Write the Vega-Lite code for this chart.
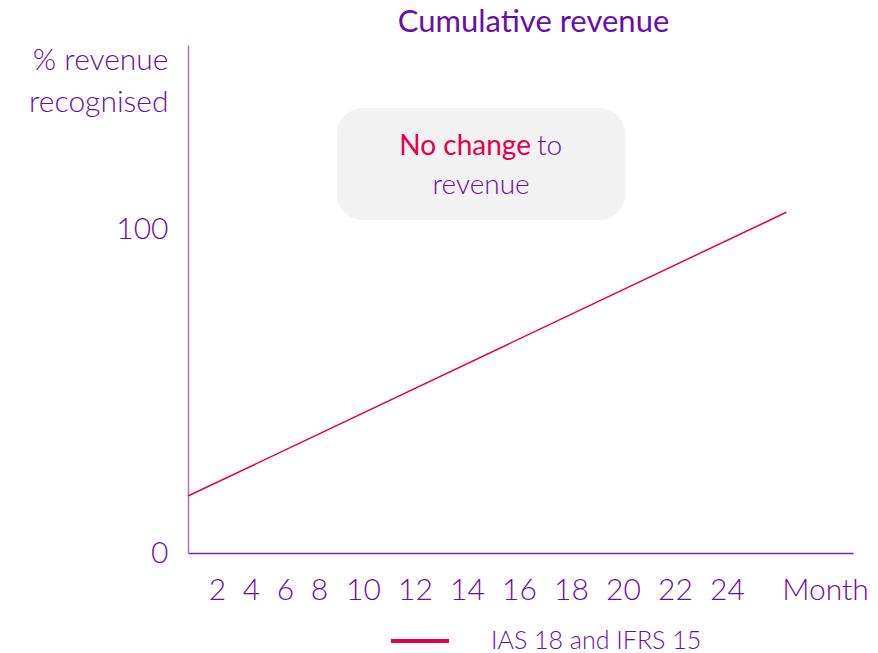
{
  "$schema": "https://vega.github.io/schema/vega-lite/v6.json",
  "width": 665,
  "height": 508,
  "autosize": {"type": "none"},
  "padding": {"left": 188, "top": 45, "right": 25, "bottom": 100},
  "background": "white",
  "config": {
    "view": {"stroke": null},
    "font": "Lato",
    "axis": {"grid": false, "ticks": false, "labelFont": "Lato", "titleFont": "Lato", "labelFontWeight": 300, "titleFontWeight": 300}
  },
  "title": {
    "text": "Cumulative revenue",
    "fontSize": 31,
    "font": "Lato",
    "fontWeight": "normal",
    "color": "#6A0DAD",
    "anchor": "middle",
    "dx": 13,
    "offset": 6
  },
  "datasets": {
    "series": [
      {"month": 0, "pct": 17.6, "series": "IAS 18 and IFRS 15"},
      {"month": 26.42, "pct": 105.3, "series": "IAS 18 and IFRS 15"}
    ],
    "box": [{"x1": 8.82, "x2": 20.08, "y1": 102.8, "y2": 137.5}],
    "notes": [
      {"month": 16.46, "pct": 125.4, "text": "No change", "part": "red"},
      {"month": 16.69, "pct": 125.4, "text": "to", "part": "purple"},
      {"month": 14.54, "pct": 113.3, "text": "revenue", "part": "center"}
    ]
  },
  "layer": [
    {
      "data": {"name": "box"},
      "mark": {"type": "rect", "color": "#F2F2F2", "cornerRadius": 26},
      "encoding": {
        "x": {"field": "x1", "type": "quantitative", "scale": {"domain": [0, 2, 8, 10, 24, 28, 29], "range": [0, 29, 131, 175, 539, 637, 665], "nice": false, "zero": false}},
        "x2": {"field": "x2"},
        "y": {"field": "y1", "type": "quantitative", "scale": {"domain": [0, 157], "nice": false}},
        "y2": {"field": "y2"}
      }
    },
    {
      "data": {"name": "notes"},
      "transform": [{"filter": "datum.part == 'red'"}],
      "mark": {"type": "text", "align": "right", "baseline": "middle", "fontSize": 28, "color": "#E6004C", "font": "Lato"},
      "encoding": {
        "x": {"field": "month", "type": "quantitative"},
        "y": {"field": "pct", "type": "quantitative"},
        "text": {"field": "text"}
      }
    },
    {
      "data": {"name": "notes"},
      "transform": [{"filter": "datum.part == 'purple'"}],
      "mark": {"type": "text", "align": "left", "baseline": "middle", "fontSize": 28, "color": "#6A0DAD", "font": "Lato", "fontWeight": 300},
      "encoding": {
        "x": {"field": "month", "type": "quantitative"},
        "y": {"field": "pct", "type": "quantitative"},
        "text": {"field": "text"}
      }
    },
    {
      "data": {"name": "notes"},
      "transform": [{"filter": "datum.part == 'center'"}],
      "mark": {"type": "text", "align": "center", "baseline": "middle", "fontSize": 28, "color": "#6A0DAD", "font": "Lato", "fontWeight": 300},
      "encoding": {
        "x": {"field": "month", "type": "quantitative"},
        "y": {"field": "pct", "type": "quantitative"},
        "text": {"field": "text"}
      }
    },
    {
      "data": {"name": "series"},
      "mark": {"type": "line", "strokeWidth": 1.5},
      "encoding": {
        "x": {
          "field": "month",
          "type": "quantitative",
          "axis": {
            "title": null,
            "values": [2, 4, 6, 8, 10, 12, 14, 16, 18, 20, 22, 24, 28],
            "labelExpr": "datum.value == 28 ? 'Month' : datum.label",
            "labelFontSize": 30,
            "labelColor": "#6A0DAD",
            "labelPadding": 22,
            "labelFlush": false,
            "labelOverlap": false,
            "domainColor": "#7A1FC8",
            "domainWidth": 1.5
          }
        },
        "y": {
          "field": "pct",
          "type": "quantitative",
          "axis": {
            "title": ["% revenue", "recognised"],
            "titleAngle": 0,
            "titleAlign": "right",
            "titleBaseline": "top",
            "titleX": -20,
            "titleY": 0,
            "titleFontSize": 30,
            "titleLineHeight": 42,
            "titleColor": "#6A0DAD",
            "values": [0, 100],
            "labelFontSize": 30,
            "labelColor": "#6A0DAD",
            "labelPadding": 20,
            "domainColor": "#A970E0",
            "domainWidth": 1.5
          }
        },
        "color": {
          "field": "series",
          "type": "nominal",
          "scale": {"domain": ["IAS 18 and IFRS 15"], "range": ["#E6004C"]},
          "legend": {
            "title": null,
            "orient": "none",
            "legendX": 201,
            "legendY": 565,
            "symbolType": "stroke",
            "symbolSize": 3364,
            "symbolStrokeWidth": 4,
            "labelOffset": 40,
            "labelLimit": 500,
            "labelFontSize": 25,
            "labelFont": "Lato",
            "labelFontWeight": 300,
            "labelColor": "#6A0DAD"
          }
        }
      }
    }
  ]
}
